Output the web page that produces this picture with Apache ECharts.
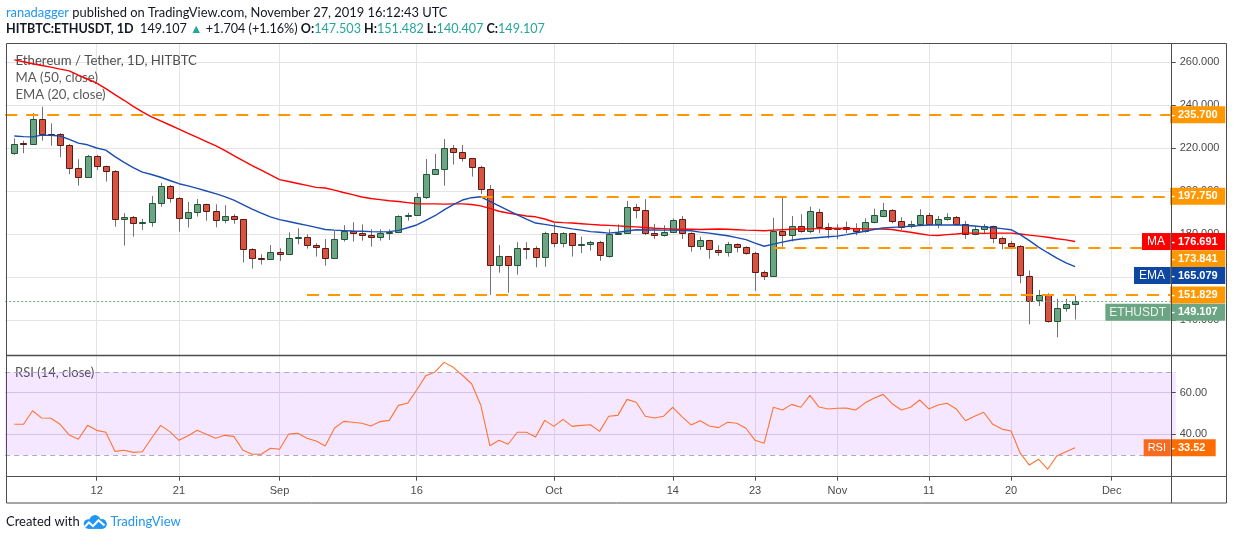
<!DOCTYPE html>
<html><head><meta charset="utf-8">
<script src="https://cdn.jsdelivr.net/npm/echarts@6/dist/echarts.min.js"></script>
<style>html,body{margin:0;padding:0;background:#fff;}#c{width:1234px;height:540px;}</style>
</head><body><div id="c"></div>
<script>
// ---------- data ----------
const axisStart = '2019-08-02', axisEnd = '2019-12-08', firstCandle = '2019-08-03';
const opens = [217.8,222.4,222.0,233.7,226.7,226.6,221.5,210.8,206.6,216.5,
 211.7,209.4,187.1,188.0,185.2,185.7,194.5,202.4,196.8,187.5,
 190.3,194.0,190.8,186.6,188.5,187.1,173.1,168.9,168.5,171.7,
 170.8,178.2,178.7,175.0,173.6,168.9,177.8,181.5,180.6,179.6,
 178.7,180.6,181.0,188.5,188.9,197.3,208.0,210.3,220.1,218.2,
 215.4,211.3,201.0,165.7,169.9,165.7,173.6,173.6,169.4,180.6,
 175.9,180.6,175.0,175.4,176.4,170.1,180.1,180.6,192.7,191.3,
 180.6,179.6,181.0,187.1,180.6,174.5,177.3,172.7,171.7,175.4,
 174.0,171.3,162.4,160.6,181.5,179.6,183.8,181.5,190.3,183.3,
 182.4,183.3,182.9,181.5,185.7,188.5,191.3,186.4,183.8,184.7,
 188.9,184.7,187.1,188.0,184.7,180.1,182.4,183.8,178.2,175.9,
 174.5,160.8,149.2,151.7,139.9,145.8,147.503];
const closes = [222.0,222.0,233.7,226.6,226.1,221.3,210.8,206.6,216.5,211.7,
 209.4,187.2,188.0,185.2,185.7,194.5,202.4,196.8,187.5,190.3,
 194.0,190.8,186.6,188.5,187.1,173.1,168.9,168.5,171.7,170.8,
 178.2,178.7,175.0,174.0,168.9,177.8,181.5,180.6,179.9,178.7,
 180.6,181.0,188.5,188.9,197.3,208.0,210.3,220.1,218.2,215.4,
 211.3,201.0,165.7,169.9,165.7,173.6,173.3,169.4,180.6,175.9,
 180.6,175.0,175.4,176.4,170.3,180.2,180.6,192.7,191.3,180.6,
 179.6,181.0,186.6,180.6,174.5,177.3,172.9,171.7,175.4,174.0,
 171.3,162.4,160.6,181.5,179.6,183.8,181.5,190.8,183.3,182.4,
 182.9,182.4,181.5,185.7,188.9,191.3,186.4,183.8,184.7,188.9,
 184.7,187.1,188.0,184.7,180.1,182.4,183.8,178.2,175.9,174.5,
 160.8,149.2,151.7,139.6,145.8,147.5,149.107];
const lows = [217.0,217.8,221.6,223.6,221.3,215.9,208.0,202.7,206.6,210.0,
 204.6,183.6,174.8,179.0,182.1,183.6,192.9,194.8,181.3,183.2,
 188.3,186.4,183.3,185.2,185.0,166.9,164.1,166.0,168.1,167.7,
 170.8,175.4,173.4,169.7,165.5,168.9,176.7,176.7,177.1,174.3,
 177.1,177.4,180.6,186.4,188.9,196.5,208.0,202.7,212.5,213.9,
 206.9,198.8,151.9,162.2,152.9,161.3,168.5,164.7,165.0,174.0,
 174.0,169.7,171.3,172.5,167.8,169.2,179.8,180.2,187.5,179.8,
 177.9,179.0,180.6,177.9,172.0,172.8,168.7,170.1,169.7,171.7,
 170.6,153.7,158.8,160.6,174.3,176.8,180.8,180.6,180.6,178.2,
 177.8,180.6,179.6,180.8,185.2,188.0,185.2,182.1,182.9,184.0,
 184.1,182.9,186.4,184.0,177.9,179.6,180.6,175.9,173.1,173.1,
 157.3,138.2,146.7,139.0,132.2,144.1,140.407];
const highs = [224.7,223.6,236.4,239.4,231.7,227.1,222.0,215.0,217.0,217.0,
 212.0,209.9,189.9,188.6,187.2,197.9,204.0,203.0,197.3,195.1,
 196.5,194.3,194.0,193.6,189.4,187.2,173.6,170.8,175.1,173.6,
 181.0,182.9,180.1,175.9,177.9,181.6,184.3,185.7,184.7,182.4,
 182.4,182.4,188.9,190.1,199.3,215.1,217.4,224.4,221.6,221.6,
 215.4,211.9,203.0,175.1,169.9,176.4,176.4,174.5,181.3,185.2,
 181.0,180.8,179.0,177.0,177.0,182.4,184.7,195.6,194.2,196.4,
 184.9,184.3,187.5,188.6,181.0,179.0,177.5,175.0,176.5,175.9,
 174.5,171.9,163.2,187.7,197.9,188.6,189.4,192.9,191.9,185.3,
 184.7,186.0,185.2,187.5,192.0,194.7,191.7,188.0,186.4,191.7,
 190.1,188.6,189.9,188.6,186.3,184.0,184.9,184.1,179.0,177.0,
 175.0,163.2,154.2,152.7,150.1,150.1,151.482];
const ma50 = [261.2,260.3,259.4,258.6,257.8,256.9,256.1,254.1,252.3,250.4,
 247.8,245.0,242.4,239.6,237.0,234.7,232.8,230.9,229.0,227.0,
 225.1,223.2,221.3,219.1,216.7,214.3,212.0,209.9,207.7,205.5,
 204.6,203.7,202.8,201.9,201.6,200.6,199.5,198.5,197.4,196.7,
 196.2,195.7,195.3,194.8,194.3,194.2,194.2,194.1,194.2,194.2,
 193.9,193.3,192.1,190.8,190.0,189.3,188.6,188.2,187.2,185.8,
 185.5,185.3,185.0,184.7,184.4,184.2,184.0,183.7,183.5,183.2,
 182.9,182.7,182.5,182.4,182.4,182.3,182.4,182.5,182.4,182.2,
 182.0,181.9,181.7,182.0,182.2,182.4,182.5,182.6,182.7,182.8,
 182.9,182.8,182.7,182.6,182.6,182.5,182.3,181.6,181.0,180.3,
 179.7,179.5,179.9,180.2,180.6,180.6,180.5,180.6,180.6,180.6,
 180.2,179.7,179.2,178.7,178.0,177.5,176.691];
const ema20 = [225.8,225.5,225.4,226.2,226.1,225.8,224.2,222.5,221.7,220.2,
 219.2,216.2,213.5,211.1,209.0,207.9,206.6,205.1,203.6,202.6,
 201.4,200.2,199.0,197.6,196.0,193.9,191.8,189.9,188.2,186.9,
 186.0,185.1,184.2,183.3,182.3,182.0,181.8,181.6,181.5,181.3,
 181.2,181.3,181.9,183.1,184.4,186.5,188.7,191.4,193.9,196.0,
 197.1,197.5,195.4,193.3,191.2,189.1,187.1,185.3,184.7,184.0,
 183.3,182.6,182.0,181.3,181.0,180.6,181.0,181.6,182.2,182.1,
 182.1,182.0,182.0,181.9,181.7,181.1,180.6,180.0,179.4,178.5,
 177.6,176.0,174.5,175.5,176.4,177.3,177.9,178.2,178.6,178.9,
 179.2,179.9,180.7,181.5,182.3,183.0,183.3,183.5,183.8,184.1,
 184.4,184.4,184.4,184.4,184.3,183.9,183.5,183.1,182.7,182.2,
 179.9,177.1,174.1,171.5,169.0,166.8,165.079];
const rsi14 = [44.8,44.8,51.3,47.8,47.7,44.8,39.7,37.6,44.3,41.9,
 41.0,31.8,32.3,31.3,31.6,38.1,44.3,41.3,37.1,39.3,
 41.9,40.0,38.1,39.5,39.0,32.3,30.4,30.4,33.3,32.8,
 40.1,40.5,38.1,36.8,34.4,42.9,46.2,45.8,45.3,44.0,
 46.1,46.7,53.9,54.9,61.3,68.2,70.0,74.6,72.2,68.4,
 64.3,54.1,34.5,37.1,35.2,41.0,41.0,38.7,46.7,43.8,
 47.2,43.8,44.3,44.6,41.4,48.7,49.1,56.8,55.4,48.7,
 47.8,48.7,53.0,48.5,44.5,46.5,44.0,43.2,45.8,45.3,
 42.9,37.1,35.7,53.0,51.7,54.4,53.0,58.7,53.1,52.2,
 52.5,52.6,51.7,55.0,57.3,59.2,54.7,51.7,53.0,56.5,
 52.2,54.1,54.9,52.2,46.5,48.7,50.6,44.8,42.5,41.6,
 30.9,25.2,28.0,23.2,29.6,31.6,33.52];
const priceTicks = [140,160,180,200,220,240,260];
const rsiTicks = [40,60];
const rsiBand = [30,70];
const tickDates = ['2019-08-12','2019-08-21','2019-09-01','2019-09-16','2019-10-01','2019-10-14','2019-10-23','2019-11-01','2019-11-11','2019-11-20','2019-12-01'];
const tickLabels = ['12','21','Sep','16','Oct','14','23','Nov','11','20','Dec'];
const levelValues = [235.7,197.75,173.841,151.829];
const levelStarts = ['2019-08-02','2019-09-23','2019-10-25','2019-09-04'];

// ---------- derived structures ----------
const categories = [];
for (let t = Date.parse(axisStart+'T00:00:00Z'); t <= Date.parse(axisEnd+'T00:00:00Z'); t += 86400000)
  categories.push(new Date(t).toISOString().slice(0,10));
const off = categories.indexOf(firstCandle);
const candleData = opens.map((o,i)=>[i+off,o,closes[i],lows[i],highs[i]]);
const pad = arr => categories.map((c,k)=> (k>=off && k-off<arr.length) ? arr[k-off] : '-');
const tickSet = new Set(tickDates);
const tickMap = {}; tickDates.forEach((d,i)=>tickMap[d]=tickLabels[i]);
const isTick = (i,v)=>tickSet.has(v);
const lastClose = closes[closes.length-1], lastMA = ma50[ma50.length-1], lastEMA = ema20[ema20.length-1], lastRSI = rsi14[rsi14.length-1];

const FONT = 'Liberation Sans';
function valTag(v, txt, bg, dy, w){
  return {coord:[axisEnd, v], symbol:'circle', symbolSize:0, itemStyle:{color:'transparent'},
    label:{show:true, position:'right', distance:-5.5, offset:[0,dy||0], formatter:'- '+txt,
      backgroundColor:bg, color:'#fff', fontSize:11, fontWeight:'bold', fontFamily:FONT,
      lineHeight:13, padding:[2,2,2,1], width:(w||55)-3, align:'left'}};
}
function nameTag(v, txt, bg, dy, fc, fs, px){
  return {coord:[axisEnd, v], symbol:'circle', symbolSize:0, itemStyle:{color:'transparent'},
    label:{show:true, position:'left', distance:5.7, offset:[0,dy||0], formatter:txt,
      backgroundColor:bg, color:fc||'#fff', fontSize:fs||12, fontFamily:FONT,
      lineHeight:13, padding:[2,px||5,2,px||5]}};
}

const levelLines = levelValues.map((v,i)=>[
  {coord:[levelStarts[i], v]}, {coord:[axisEnd, v]}
]);
const levelOffsets = [0,0,11,0];
const levelTagData = levelValues.map((v,i)=>valTag(v, v.toFixed(3), '#ff9800', levelOffsets[i]));

const chart = echarts.init(document.getElementById('c'), null, {renderer:'canvas'});
chart.setOption({
  animation:false,
  textStyle:{fontFamily:FONT},
  grid:[
    {left:5.2, top:43.3, width:1170.5, height:312.2, show:false},
    {left:5.2, top:355.5, width:1170.5, height:121.2, show:false}
  ],
  xAxis:[
    {type:'category', gridIndex:0, data:categories, boundaryGap:false,
      axisLine:{show:false}, axisTick:{show:false}, axisLabel:{show:false},
      splitLine:{show:true, interval:isTick, lineStyle:{color:'#e4e4e4', width:1}}},
    {type:'category', gridIndex:1, data:categories, boundaryGap:false,
      axisLine:{show:false},
      axisTick:{show:true, interval:isTick, length:4, lineStyle:{color:'#4d4d4d'}},
      axisLabel:{interval:isTick, formatter:v=>tickMap[v]||'', color:'#4a4a4a', fontSize:11, margin:9},
      splitLine:{show:true, interval:isTick, lineStyle:{color:'#e4e4e4', width:1}}}
  ],
  yAxis:[
    {type:'value', gridIndex:0, position:'right', offset:-4, min:123.7, max:268.9,
      axisLine:{show:false},
      axisTick:{show:true, length:4, customValues:priceTicks, lineStyle:{color:'#4d4d4d'}},
      axisLabel:{customValues:priceTicks, formatter:v=>v.toFixed(3), color:'#4a4a4a', fontSize:11, margin:8},
      splitLine:{show:true, lineStyle:{color:'#e4e4e4', width:1}}},
    {type:'value', gridIndex:1, position:'right', offset:-4, min:19.6, max:77.9,
      axisLine:{show:false},
      axisTick:{show:true, length:4, customValues:rsiTicks, lineStyle:{color:'#4d4d4d'}},
      axisLabel:{customValues:rsiTicks, formatter:v=>v.toFixed(2), color:'#4a4a4a', fontSize:11, margin:8},
      splitLine:{show:true, lineStyle:{color:'#ddd3e6', width:1}}}
  ],
  series:[
    {type:'custom', name:'ETHUSDT', xAxisIndex:0, yAxisIndex:0, z:2, clip:true,
      data:candleData, encode:{x:0, y:[1,2,3,4]},
      renderItem:function(params, api){
        const i=api.value(0), o=api.value(1), c=api.value(2), l=api.value(3), h=api.value(4);
        const top=api.coord([i, Math.max(o,c)]), bot=api.coord([i, Math.min(o,c)]);
        const hi=api.coord([i,h]), lo=api.coord([i,l]);
        const w=api.size([1,0])[0]*0.66;
        const up=c>=o;
        const cx=Math.round(top[0])+0.5;
        return {type:'group', children:[
          {type:'line', shape:{x1:cx, y1:hi[1], x2:cx, y2:lo[1]}, style:{stroke:'#737375', lineWidth:1}},
          {type:'rect', shape:{x:Math.round(cx-w/2)+0.5, y:Math.round(top[1])+0.5, width:Math.round(w), height:Math.max(Math.round(bot[1]-top[1]),1)},
            style:{fill:up?'#6ba583':'#d75442', stroke:up?'#225437':'#5b1a13', lineWidth:1}}
        ]};
      }},
    {type:'line', name:'MA (50, close)', xAxisIndex:0, yAxisIndex:0, z:3, data:pad(ma50),
      showSymbol:false, symbol:'none', lineStyle:{color:'#ff0000', width:1.4}, itemStyle:{color:'#ff0000'},
      markLine:{silent:true, symbol:['none','none'], label:{show:false}, z:4,
        lineStyle:{color:'#ff9800', width:2, type:[12,9]},
        data: levelLines.concat([[
          {coord:[axisStart, lastClose], lineStyle:{color:'#6ba583', width:1, type:[2,2]}},
          {coord:[axisEnd, lastClose]}
        ]])},
      markPoint:{silent:true, z:6, data: levelTagData.concat([
        valTag(lastMA, lastMA.toFixed(3), '#ff0000', 0),
        nameTag(lastMA, 'MA', '#ff0000', 0),
        valTag(lastEMA, lastEMA.toFixed(3), '#0d47a1', 9),
        nameTag(lastEMA, 'EMA', '#0d47a1', 9),
        valTag(lastClose, lastClose.toFixed(3), '#6ba583', 11.4),
        nameTag(lastClose, 'ETHUSDT', '#6ba583', 11.4, '#eaf4ee', 12, 4)
      ])}},
    {type:'line', name:'EMA (20, close)', xAxisIndex:0, yAxisIndex:0, z:3, data:pad(ema20),
      showSymbol:false, symbol:'none', lineStyle:{color:'#1a4db0', width:1.4}, itemStyle:{color:'#1a4db0'}},
    {type:'line', name:'RSI (14, close)', xAxisIndex:1, yAxisIndex:1, z:3, data:pad(rsi14),
      showSymbol:false, symbol:'none', lineStyle:{color:'#ff7433', width:1.1}, itemStyle:{color:'#ff7433'},
      markArea:{silent:true, itemStyle:{color:'rgba(153,21,255,0.10)'}, data:[[{yAxis:rsiBand[0]},{yAxis:rsiBand[1]}]]},
      markLine:{silent:true, symbol:['none','none'], label:{show:false},
        lineStyle:{color:'#b4a7c0', width:1, type:[5,4]},
        data:[{yAxis:rsiBand[1]},{yAxis:rsiBand[0]}]},
      markPoint:{silent:true, z:6, data:[
        valTag(lastRSI, lastRSI.toFixed(2), '#ff6d00', 0, 45.5),
        nameTag(lastRSI, 'RSI', '#f66b1f', 0, '#fff', 11, 4)
      ]}}
  ],
  graphic:[
    {type:'text', x:6, y:12.5, z:1, style:{text:'{a|ranadagger}{b| published on TradingView.com, November 27, 2019 16:12:43 UTC}', verticalAlign:'middle',
      rich:{a:{fill:'#2196f3', fontSize:12.9, fontFamily:'Lato'}, b:{fill:'#131722', fontSize:12.9, fontFamily:'Lato'}}}},
    {type:'text', x:6, y:28.5, z:1, style:{text:'{k|HITBTC:ETHUSDT, 1D}{n|  149.107 }{t|▲}{n| +1.704 (+1.16%) }{k|O:}{t|147.503}{k| H:}{t|151.482}{k| L:}{t|140.407}{k| C:}{t|149.107}', verticalAlign:'middle',
      rich:{k:{fill:'#131722', fontSize:12.6, fontWeight:'bold', fontFamily:'Lato'}, n:{fill:'#131722', fontSize:12.6, fontFamily:'Lato'}, t:{fill:'#26a69a', fontSize:12.6, fontFamily:'Lato'}}}},
    {type:'text', x:15.5, y:60.7, z:1, style:{text:'Ethereum / Tether, 1D, HITBTC', verticalAlign:'middle', fill:'#4f4f4f', fontSize:13.2, fontFamily:'Lato'}},
    {type:'text', x:15.5, y:77.5, z:1, style:{text:'MA (50, close)', verticalAlign:'middle', fill:'#5a5a5a', fontSize:13.2, fontFamily:'Lato'}},
    {type:'text', x:15.5, y:94.5, z:1, style:{text:'EMA (20, close)', verticalAlign:'middle', fill:'#5a5a5a', fontSize:13.2, fontFamily:'Lato'}},
    {type:'text', x:15, y:372.5, z:1, style:{text:'RSI (14, close)', verticalAlign:'middle', fill:'#555', fontSize:13, fontFamily:'Lato'}},
    {type:'text', x:6, y:522, z:1, style:{text:'Created with', verticalAlign:'middle', fill:'#131722', fontSize:13, fontFamily:'Lato'}},
    {type:'text', x:110.5, y:522, z:1, style:{text:'TradingView', verticalAlign:'middle', fill:'#2196f3', fontSize:13, fontFamily:'Lato'}},
    {type:'group', z:1, children:[
      {type:'circle', shape:{cx:88.5, cy:524, r:4.8}, style:{fill:'#2196f3'}},
      {type:'circle', shape:{cx:95, cy:520.6, r:5.6}, style:{fill:'#2196f3'}},
      {type:'circle', shape:{cx:101.8, cy:524, r:5}, style:{fill:'#2196f3'}},
      {type:'rect', shape:{x:88.5, y:523, width:13.3, height:5.9}, style:{fill:'#2196f3'}},
      {type:'polyline', shape:{points:[[84.5,527],[89,522.5],[93,526.2],[98.5,520.2],[104.5,525.5]]}, style:{stroke:'#fff', lineWidth:2, fill:null}}
    ]},
    {type:'rect', z:20, shape:{x:6.5, y:43.5, width:1220, height:459.5}, style:{fill:null, stroke:'#4d4d4d', lineWidth:1}},
    {type:'line', z:20, shape:{x1:6.5, y1:355.5, x2:1226.5, y2:355.5}, style:{stroke:'#4d4d4d', lineWidth:1.3}},
    {type:'line', z:20, shape:{x1:6.5, y1:476.5, x2:1226.5, y2:476.5}, style:{stroke:'#4d4d4d', lineWidth:1}},
    {type:'line', z:20, shape:{x1:1171.5, y1:43.5, x2:1171.5, y2:503}, style:{stroke:'#4d4d4d', lineWidth:1}}
  ]
});
</script>
</body></html>
